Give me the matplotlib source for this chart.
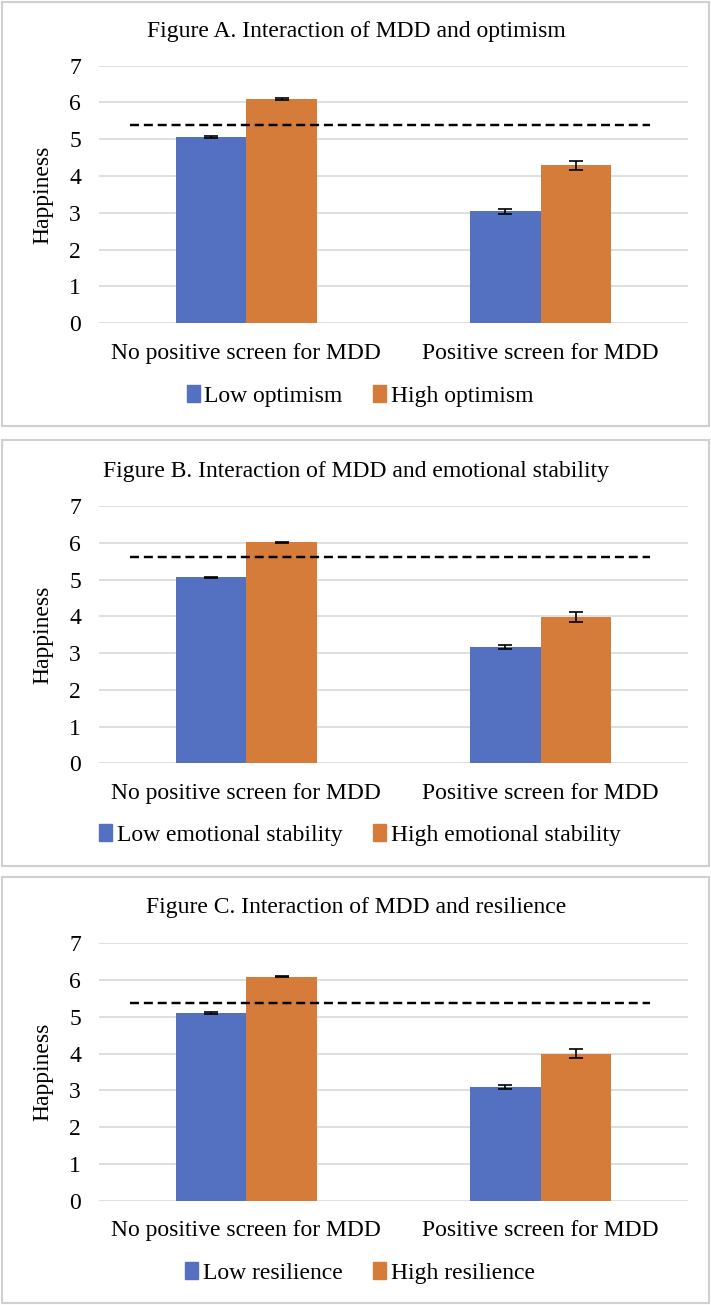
import matplotlib
matplotlib.use("Agg")
import matplotlib.pyplot as plt
from matplotlib.patches import Rectangle, Patch

plt.rcParams['font.family'] = ['Liberation Serif', 'DejaVu Serif']

categories = ["No positive screen for MDD", "Positive screen for MDD"]

titles = ["Figure A. Interaction of MDD and optimism",
          "Figure B. Interaction of MDD and emotional stability",
          "Figure C. Interaction of MDD and resilience"]
low_names = ["Low optimism", "Low emotional stability", "Low resilience"]
high_names = ["High optimism", "High emotional stability", "High resilience"]

low_vals = [[5.06, 3.04], [5.06, 3.17], [5.10, 3.10]]
high_vals = [[6.10, 4.29], [6.01, 3.98], [6.09, 4.00]]
low_err = [[0.02, 0.06], [0.02, 0.05], [0.02, 0.06]]
high_err = [[0.02, 0.13], [0.02, 0.13], [0.02, 0.13]]
ref_line = [5.38, 5.62, 5.38]

blue = "#5470C1"
orange = "#D67C3B"
grid_c = "#D9D9D9"

W, H = 711, 1305
fig = plt.figure(figsize=(W / 100, H / 100), dpi=100)

# panel boxes (top, bottom) and axes (y of 7, y of 0) in pixels
boxes = [(2, 426), (440, 866), (877, 1303)]
axes_px = [(65.7, 323.3), (506, 763.3), (943.3, 1200.7)]
title_y = [31, 471, 908]
legend_y = [396, 835, 1273]

fs = 17
for i in range(3):
    bt, bb = boxes[i]
    fig.patches.append(Rectangle((2 / W, 1 - bb / H), 707 / W, (bb - bt) / H,
                                 transform=fig.transFigure, fill=False,
                                 edgecolor="#D0D0D0", lw=1.5))
    top, bot = axes_px[i]
    ax = fig.add_axes([99 / W, 1 - bot / H, 589 / W, (bot - top) / H])
    x = [0.5, 1.5]
    w = 0.24
    ekw = dict(lw=1.2, capthick=1.2, ecolor="black")
    ax.set_axisbelow(True)
    ax.bar([p - w / 2 for p in x], low_vals[i], w, color=blue,
           yerr=low_err[i], capsize=5, error_kw=ekw,
           label=low_names[i], zorder=2)
    ax.bar([p + w / 2 for p in x], high_vals[i], w, color=orange,
           yerr=high_err[i], capsize=5, error_kw=ekw,
           label=high_names[i], zorder=2)
    ax.hlines(ref_line[i], 0.105, 1.87, colors="black", linestyles=(0, (3.7, 2)),
              lw=1.75, zorder=3)
    ax.set_xlim(0, 2)
    ax.set_ylim(0, 7)
    ax.set_yticks(range(8))
    ax.yaxis.grid(True, color=grid_c, lw=1.2)
    for s in ["top", "right", "left", "bottom"]:
        ax.spines[s].set_visible(False)
    ax.tick_params(axis="both", length=0, labelsize=fs)
    ax.tick_params(axis="y", pad=13)
    ax.tick_params(axis="x", pad=14)
    ax.set_xticks(x)
    ax.set_xticklabels(categories, fontsize=fs)
    ax.set_ylabel("Happiness", fontsize=fs, labelpad=11)
    fig.text(356 / W, 1 - title_y[i] / H, titles[i], ha="center", va="center",
             fontsize=fs)
    handles = [Patch(color=blue), Patch(color=orange)]
    fig.legend(handles, [low_names[i], high_names[i]], loc="center",
               bbox_to_anchor=(360 / W, 1 - legend_y[i] / H), ncol=2,
               frameon=False, fontsize=fs, handlelength=0.55,
               handleheight=0.75, handletextpad=0.2, columnspacing=1.3)

fig.savefig("out.png", dpi=100)
